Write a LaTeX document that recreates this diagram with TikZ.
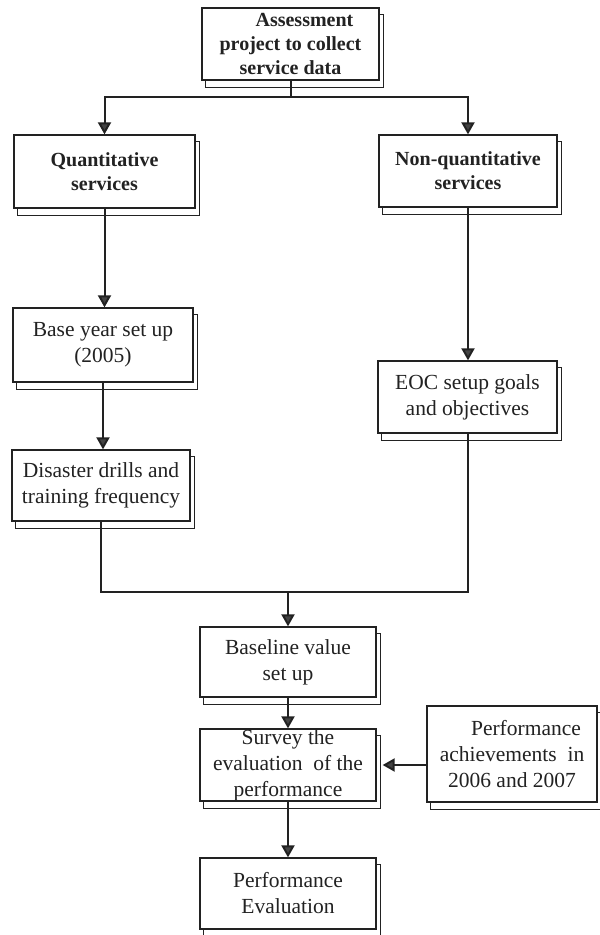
\documentclass[tikz,border=0pt]{standalone}
\usepackage{fontspec}
\setmainfont{Liberation Serif}
\usetikzlibrary{arrows.meta,backgrounds}

\definecolor{ink}{HTML}{222222}
\definecolor{tipgray}{HTML}{444444}

\tikzset{
  box/.style={draw=ink, line width=1.3pt, fill=white, align=center, inner sep=0pt,
    text=ink, font=\fontsize{21.5}{26}\selectfont},
  boldbox/.style={box, font=\fontsize{20}{24}\selectfont\bfseries},
  backbox/.style={draw=ink, line width=1.3pt, fill=white},
  link/.style={draw=ink, line width=2pt},
  arr/.style={link, -{Triangle[width=13pt,length=12pt,fill=tipgray]}},
}

% second sheet behind each box
\newcommand\backsheet[1]{%
  \draw[backbox] ([shift={(4pt,-7pt)}]#1.south west) rectangle ([shift={(4pt,-7pt)}]#1.north east);}

\begin{document}
\begin{tikzpicture}[x=1pt,y=-1pt]
\useasboundingbox (0,0) rectangle (600,935);

\node[boldbox, minimum width=177pt, minimum height=72pt] (assess) at (290.5,44)
  {\hspace*{28pt}Assessment\\project to collect\\service data};
\node[boldbox, minimum width=181pt, minimum height=73pt] (quant) at (104.5,171.5)
  {Quantitative\\services};
\node[boldbox, minimum width=178pt, minimum height=72pt] (nonq) at (468,171)
  {Non-quantitative\\services};
\node[box, minimum width=180pt, minimum height=74pt] (base) at (103,345)
  {Base year set up\\(2005)};
\node[box, minimum width=178pt, minimum height=71pt] (drills) at (101,485.5)
  {Disaster drills and\\training frequency};
\node[box, minimum width=179pt, minimum height=72pt] (eoc) at (467.5,397)
  {EOC setup goals\\and objectives};
\node[box, minimum width=176pt, minimum height=70pt] (baseline) at (288,662)
  {Baseline value\\set up};
\node[box, minimum width=176pt, minimum height=72pt] (survey) at (288,765)
  {Survey the\\evaluation\ \ of the\\performance};
\node[box, minimum width=176pt, minimum height=71pt] (perfeval) at (288,893.5)
  {Performance\\Evaluation};
\node[box, minimum width=170pt, minimum height=96pt] (achieve) at (512,754)
  {\hspace*{28pt}Performance\\achievements\ \ in\\2006 and 2007};

\begin{scope}[on background layer]
  \backsheet{assess}
  \backsheet{quant}
  \backsheet{nonq}
  \backsheet{base}
  \backsheet{drills}
  \backsheet{eoc}
  \backsheet{baseline}
  \backsheet{survey}
  \backsheet{perfeval}
  \backsheet{achieve}
\end{scope}

\coordinate (split) at (290.5,97);
\coordinate (merge) at (288,592);

% top split into the two service branches
\draw[link] (assess.south) -- (split);
\draw[arr] (split) -| (quant.north);
\draw[arr] (split) -| (nonq.north);

% quantitative branch
\draw[arr] (quant.south) -- (quant.south |- base.north);
\draw[arr] (base.south) -- (base.south |- drills.north);

% non-quantitative branch
\draw[arr] (nonq.south) -- (nonq.south |- eoc.north);

% branches merge into the baseline
\draw[link] (drills.south) |- (merge);
\draw[link] (eoc.south) |- (merge);
\draw[arr] (merge) -- (baseline.north);

\draw[arr] (baseline.south) -- (survey.north);
\draw[arr] (survey.south) -- (perfeval.north);
\draw[arr] (achieve.west |- survey.east) -- ([xshift=6pt]survey.east);
\end{tikzpicture}
\end{document}
